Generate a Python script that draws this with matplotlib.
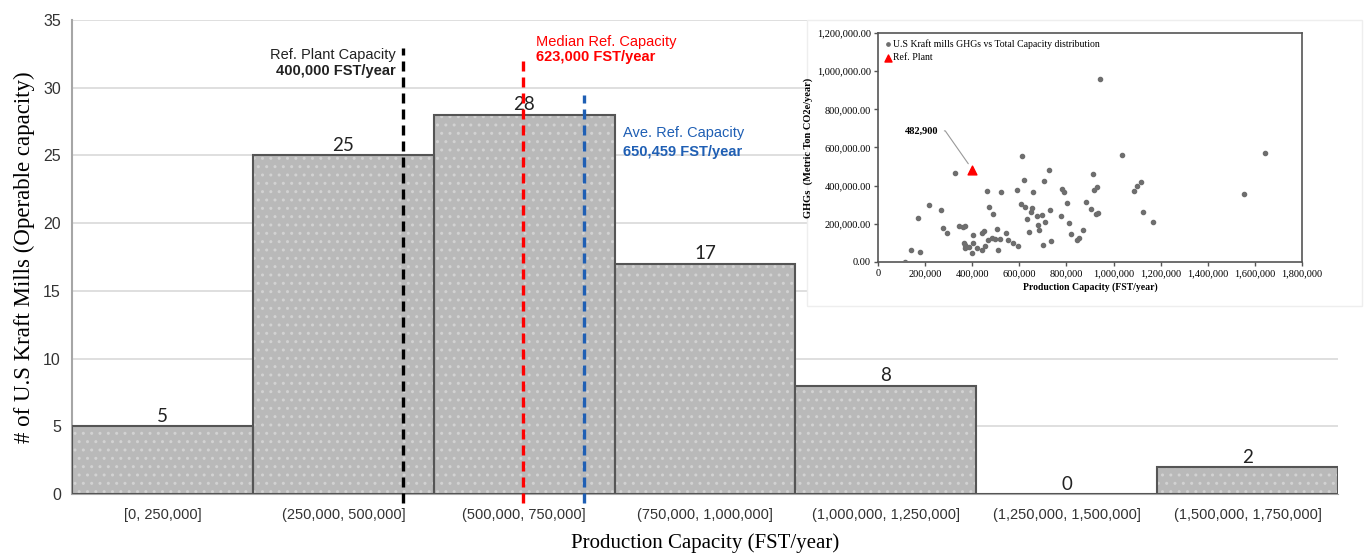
import matplotlib.pyplot as plt
from matplotlib.patches import Rectangle
from matplotlib.ticker import FuncFormatter

# histogram of mill capacity
bins = ['[0, 250,000]', '(250,000, 500,000]', '(500,000, 750,000]',
        '(750,000, 1,000,000]', '(1,000,000, 1,250,000]',
        '(1,250,000, 1,500,000]', '(1,500,000, 1,750,000]']
bin_left = [0, 250000, 500000, 750000, 1000000, 1250000, 1500000]
bin_width = 250000
mills = [5, 25, 28, 17, 8, 0, 2]

# reference lines (position as drawn, label, colour, top)
ref_pos = [458000, 623000, 708000]
ref_top = [32.9, 32.2, 29.5]
ref_title = ['Ref. Plant Capacity', 'Median Ref. Capacity', 'Ave. Ref. Capacity']
ref_value = ['400,000 FST/year', '623,000 FST/year', '650,459 FST/year']
ref_color = ['black', '#ff0000', '#1f5fb4']

# inset scatter: capacity (FST/year) vs GHGs (t CO2e/year)
cap = [113, 140, 180, 168, 215, 268, 274, 292, 328, 345, 359, 369, 363, 370,
       368, 387, 398, 405, 405, 422, 440, 449, 443, 454, 461, 468, 472, 485,
       489, 497, 507, 510, 517, 524, 544, 552, 573, 591, 594, 605, 612, 619,
       622, 633, 639, 650, 654, 658, 675, 679, 682, 695, 702, 706, 709, 728,
       730, 736, 778, 780, 791, 804, 812, 818, 845, 854, 871, 885, 906, 911,
       918, 928, 925, 936, 942, 1037, 1087, 1100, 1117, 1125, 1167, 1553, 1642]
ghg = [0, 61, 51, 228, 298, 273, 179, 154, 464, 187, 184, 187, 102, 88,
       72, 79, 49, 140, 100, 75, 154, 161, 65, 84, 371, 114, 289, 128,
       251, 123, 175, 65, 119, 368, 154, 114, 100, 377, 84, 303, 554, 429,
       289, 224, 158, 263, 284, 368, 240, 194, 166, 245, 88, 422, 212, 484,
       275, 109, 242, 385, 368, 308, 205, 147, 114, 126, 168, 314, 280, 462,
       377, 391, 254, 256, 960, 559, 370, 399, 420, 263, 208, 354, 569]
cap = [c * 1000 for c in cap]
ghg = [g * 1000 for g in ghg]
ref_cap = 400000
ref_ghg = 482900

fig = plt.figure(figsize=(13.67, 5.56), dpi=100)
ax = fig.add_axes([0.0527, 0.1115, 0.9261, 0.8525])

centers = [b + bin_width / 2 for b in bin_left]
ax.bar(centers, mills, width=bin_width, color='#b9b9b9', edgecolor='#d2d2d2',
       hatch='..', linewidth=0, zorder=2)
ax.bar(centers, mills, width=bin_width, fill=False, edgecolor='#555555',
       linewidth=1.5, zorder=3)
for c, m in zip(centers, mills):
    ax.annotate(str(m), (c, m), xytext=(0, 1), textcoords='offset points',
                ha='center', va='bottom', fontsize=13.5, family='Lato',
                color='#222222', zorder=4)

for x, top, t, v, col in zip(ref_pos, ref_top, ref_title, ref_value, ref_color):
    ax.vlines(x, -0.7, top, colors=col, linestyles=(0, (3, 1.8)),
              linewidth=2.4, zorder=5, clip_on=False)

txt = dict(family='Liberation Sans', fontsize=10.5)
ax.text(448000, 32.4, ref_title[0], ha='right', va='center', color='#222222', **txt)
ax.text(448000, 31.2, ref_value[0], ha='right', va='center', color='#222222',
        fontweight='bold', **txt)
ax.text(641000, 33.4, ref_title[1], ha='left', va='center', color=ref_color[1], **txt)
ax.text(641000, 32.3, ref_value[1], ha='left', va='center', color=ref_color[1],
        fontweight='bold', **txt)
ax.text(761000, 26.65, ref_title[2], ha='left', va='center', color=ref_color[2], **txt)
ax.text(761000, 25.25, ref_value[2], ha='left', va='center', color=ref_color[2],
        fontweight='bold', **txt)

ax.set_xlim(0, 1750000)
ax.set_ylim(0, 35)
ax.set_yticks(range(0, 36, 5))
ax.set_xticks(centers)
ax.set_xticklabels(bins, family='Liberation Sans', fontsize=10.5, color='#333333')
ax.tick_params(axis='x', length=0, pad=10)
ax.tick_params(axis='y', length=0, pad=8, labelsize=11.5, labelcolor='#333333')
for lab in ax.get_yticklabels():
    lab.set_family('Liberation Sans')
ax.yaxis.grid(True, color='#d9d9d9', linewidth=1.2, zorder=0)
ax.set_axisbelow(True)
for s in ['top', 'right']:
    ax.spines[s].set_visible(False)
ax.spines['left'].set_color('#a6a6a6')
ax.spines['bottom'].set_color('#a6a6a6')
ax.spines['left'].set_linewidth(1.5)
ax.set_xlabel('Production Capacity (FST/year)', family='Liberation Serif',
              fontsize=15, labelpad=8)
ax.set_ylabel('# of U.S Kraft Mills (Operable capacity)', family='Liberation Serif',
              fontsize=16.5, labelpad=6)

# white panel behind inset
fig.patches.append(Rectangle((0.590, 0.450), 0.406, 0.514, transform=fig.transFigure,
                             facecolor='white', edgecolor='#eeeeee', linewidth=1,
                             zorder=10))

ins = fig.add_axes([0.6423, 0.5288, 0.3101, 0.4119], zorder=11)
ins.scatter(cap, ghg, s=9, color='#6e6e6e', zorder=3,
            label='U.S Kraft mills GHGs vs Total Capacity distribution')
ins.scatter([ref_cap], [ref_ghg], s=40, marker='^', color='#ff0000', zorder=4,
            label='Ref. Plant')
ins.annotate('482,900', xy=(ref_cap - 10000, ref_ghg + 20000), xytext=(258000, 687000),
             ha='right', va='center', fontsize=7.5, fontweight='bold',
             family='Liberation Serif',
             arrowprops=dict(arrowstyle='-', color='#999999', lw=0.8,
                             connectionstyle='angle,angleA=0,angleB=-55,rad=0'))
ins.set_xlim(0, 1800000)
ins.set_ylim(0, 1200000)
ins.set_xticks(range(0, 1800001, 200000))
ins.set_yticks(range(0, 1200001, 200000))
ins.xaxis.set_major_formatter(FuncFormatter(lambda v, p: f'{v:,.0f}'))
ins.yaxis.set_major_formatter(FuncFormatter(lambda v, p: f'{v:,.2f}'))
ins.tick_params(labelsize=7.5, length=3, width=1, color='#555555', pad=2)
for lab in ins.get_xticklabels() + ins.get_yticklabels():
    lab.set_family('Liberation Serif')
for s in ins.spines.values():
    s.set_color('#555555')
    s.set_linewidth(1.2)
ins.set_xlabel('Production Capacity (FST/year)', family='Liberation Serif',
               fontsize=7, fontweight='bold', labelpad=3)
ins.set_ylabel('GHGs  (Metric Ton CO2e/year)', family='Liberation Serif',
               fontsize=7.5, fontweight='bold', labelpad=3)
ins.legend(loc='upper left', frameon=False, prop=dict(family='Liberation Serif', size=7),
           handletextpad=0.1, borderaxespad=0.2, labelspacing=0.5, markerscale=0.8,
           handlelength=0.8)

fig.savefig('out.png', dpi=100)
